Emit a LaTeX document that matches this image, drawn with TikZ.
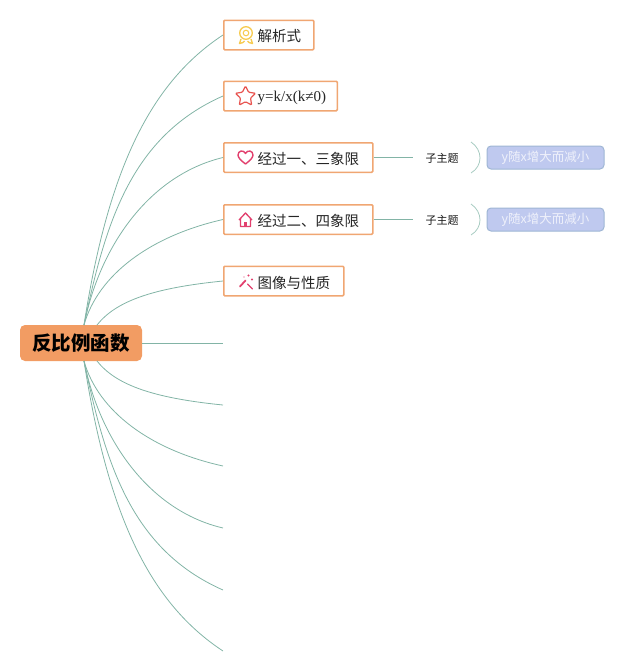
\documentclass[tikz,border=0pt]{standalone}
\usepackage{fontspec}
\setmainfont{Noto Sans CJK SC}
\usetikzlibrary{positioning,shapes.geometric}

\definecolor{branchgreen}{HTML}{82B4A6}
\definecolor{boxorange}{HTML}{F0A672}
\definecolor{rootorange}{HTML}{F29C63}
\definecolor{leafblue}{HTML}{BFC9EF}
\definecolor{leafedge}{HTML}{9FB6D4}
\definecolor{medalyellow}{HTML}{F7CB50}
\definecolor{starred}{HTML}{E85450}
\definecolor{iconpink}{HTML}{E2406E}
\tikzset{
  branch/.style={draw=branchgreen,line width=0.8pt},
  topicbox/.style={draw=boxorange,fill=white,line width=1.5pt,rounded corners=1pt,minimum height=29.5pt,inner sep=0pt,anchor=west},
  topictext/.style={font=\fontsize{14.5pt}{16pt}\selectfont,text=black!85,inner sep=0pt,anchor=west},
  subtopic/.style={font=\fontsize{11pt}{13pt}\selectfont,text=black!90,inner sep=1pt},
  leafbox/.style={draw=leafedge,fill=leafblue,line width=1pt,rounded corners=4pt,minimum width=117pt,minimum height=23pt,inner sep=0pt,text=white!75!leafblue,font=\fontsize{12.5pt}{14pt}\selectfont}
}

\begin{document}
\begin{tikzpicture}[x=1pt,y=-1pt]
\useasboundingbox (0,0) rectangle (640,672);

% centre
\node [draw=none,fill=rootorange,rounded corners=5pt,minimum width=122pt,minimum height=36pt,inner sep=0pt,
	font=\fontsize{19.5pt}{22pt}\selectfont\bfseries] (root) at (81,343) {反比例函数};

% topics
\node [topicbox,minimum width=90pt] (jiexi) at (223,35) {};
\node [topicbox,minimum width=113.5pt] (formula) at (223,96) {};
\node [topicbox,minimum width=149pt] (first) at (223,157.5) {};
\node [topicbox,minimum width=149pt] (second) at (223,219.5) {};
\node [topicbox,minimum width=120pt] (image) at (223,281) {};

\node [topictext] (jiexitxt) at (257.5,36) {解析式};
\node [topictext] (formulatxt) at (257.5,97.5) {\fontspec{Liberation Serif}\fontsize{15pt}{16pt}\selectfont y=k/x(k≠0)};
\node [topictext] (firsttxt) at (257.5,158.5) {经过一、三象限};
\node [topictext] (secondtxt) at (257.5,220.5) {经过二、四象限};
\node [topictext] (imagetxt) at (257.5,282.5) {图像与性质};

% free ends
\coordinate (top) at (84,325);
\coordinate (bot) at (84,361);
\coordinate (endA) at (223,343);
\coordinate (endB) at (223,405);
\coordinate (endC) at (223,466);
\coordinate (endD) at (223,528);
\coordinate (endE) at (223,590);
\coordinate (endF) at (223,651);
\coordinate (topin) at (97,325);
\coordinate (botin) at (97,361);

\draw [branch] (top) .. controls (108,170) and (150,83) .. (jiexi.west);
\draw [branch] (top) .. controls (105,225) and (130,137) .. (formula.west);
\draw [branch] (top) .. controls (100,245) and (150,175) .. (first.west);
\draw [branch] (top) .. controls (98,275) and (150,236) .. (second.west);
\draw [branch] (topin) .. controls (116,301) and (153,288) .. (image.west);
\draw [branch] (root.east) -- (endA);
\draw [branch] (botin) .. controls (116,385) and (153,398) .. (endB);
\draw [branch] (bot) .. controls (98,411) and (150,450) .. (endC);
\draw [branch] (bot) .. controls (100,441) and (150,511) .. (endD);
\draw [branch] (bot) .. controls (105,461) and (130,549) .. (endE);
\draw [branch] (bot) .. controls (108,516) and (150,603) .. (endF);

% sub topics
\node [subtopic] (subA) at (442,158.5) {子主题};
\node [subtopic] (subB) at (442,220.5) {子主题};
\node [leafbox] (leafA) at (545.5,157.5) {y随x增大而减小};
\node [leafbox] (leafB) at (545.5,219.5) {y随x增大而减小};
\draw [branch] (first.east) -- (413,157.5);
\draw [branch] (second.east) -- (413,219.5);
\draw [branch,draw=branchgreen!70!white] (471,142) .. controls (483,150) and (483,166) .. (471,173);
\draw [branch,draw=branchgreen!70!white] (471,204) .. controls (483,212) and (483,228) .. (471,235);

% icons
\draw [draw=medalyellow,line width=1.3pt] (246,33) circle (6.3pt);
\draw [draw=medalyellow,line width=1pt] (246,33) circle (2.8pt);
\draw [draw=medalyellow,line width=1.4pt,line join=round] (241,39) -- (239.5,43.5) -- (243,42.5) -- (244.5,41)
	(251,39) -- (252.5,43.5) -- (249,42.5) -- (247.5,41);
\node [star,star points=5,star point ratio=2,draw=starred,line width=1.2pt,minimum size=21pt,inner sep=0pt,rounded corners=1pt] (staricon) at (245.5,96.5) {};
\draw [draw=iconpink,line width=1.4pt,line join=round]
	(245.5,164) .. controls (240,160) and (238,157) .. (238,155)
	.. controls (238,150.5) and (243.5,149.5) .. (245.5,153.5)
	.. controls (247.5,149.5) and (253,150.5) .. (253,155)
	.. controls (253,157) and (251,160) .. (245.5,164);
\draw [draw=iconpink,line width=1.3pt,line join=round] (239,220) -- (245.5,213) -- (252,220) (240.5,219) -- (240.5,226.5) -- (250.5,226.5) -- (250.5,219);
\fill [iconpink] (243.8,226.5) -- (243.8,222) -- (247.2,222) -- (247.2,226.5) -- cycle;
\draw [draw=iconpink,line width=1.8pt,line cap=round] (245.5,280.5) -- (240,286.5);
\draw [draw=iconpink,line width=1.3pt,line cap=round] (247.5,284) -- (252.5,289);
\fill [iconpink] (248.5,275.5) circle (1.2pt) (252,279.5) circle (1.1pt) (244,277) circle (0.7pt);
\end{tikzpicture}
\end{document}
